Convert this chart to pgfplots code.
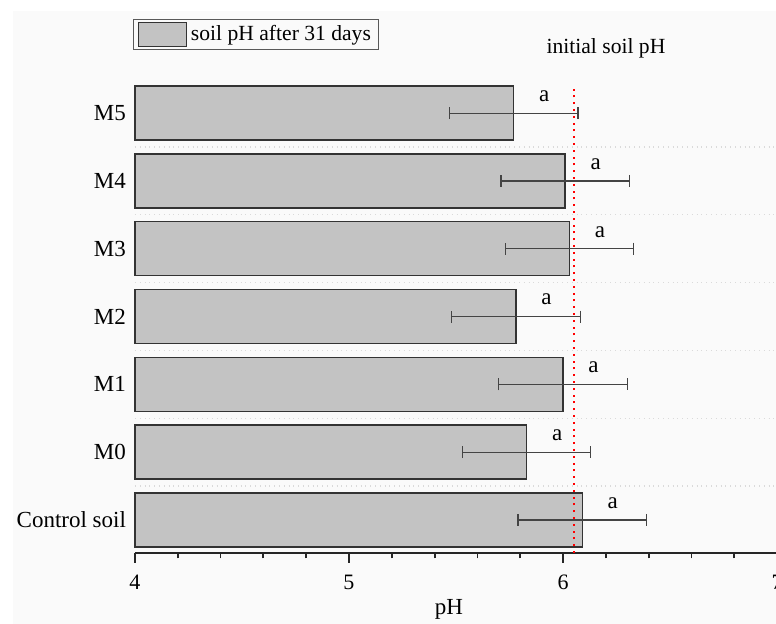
\documentclass[border=0pt]{standalone}
\usepackage{fontspec}
\setmainfont{Liberation Serif}
\usepackage{pgfplots}
\pgfplotsset{compat=1.18}
\definecolor{bg}{RGB}{250,250,250}
\definecolor{barfill}{RGB}{195,195,195}
\definecolor{bardraw}{RGB}{51,51,51}
\definecolor{errc}{RGB}{68,68,68}
\definecolor{gridc}{RGB}{218,218,218}
\pgfplotstableread{
pos ph err
0 6.09 0.30
1 5.83 0.30
2 6.00 0.30
3 5.78 0.30
4 6.03 0.30
5 6.01 0.30
6 5.77 0.30
}\phdata
\begin{document}
\begin{tikzpicture}
\useasboundingbox (-67.5pt,-35.5pt) rectangle (320.5pt,276.5pt);
\fill[white] (-67.5pt,-35.5pt) rectangle (320.5pt,276.5pt);
\fill[bg] (-61pt,-35.5pt) rectangle (320.5pt,271pt);
\begin{axis}[
  scale only axis, width=321pt, height=236.9pt,
  xmin=0, xmax=3, ymin=-0.487, ymax=6.5,
  x filter/.expression={x-4},
  clip=false,
  axis x line*=bottom, axis y line*=left,
  y axis line style={draw=none},
  x axis line style={line width=1pt, black!85, -},
  xtick={0,1,2,3}, xticklabels={4,5,6,7},
  minor x tick num=4,
  tick align=outside,
  major tick length=5pt, minor tick length=2.75pt,
  xtick style={line width=0.9pt, black!85},
  ytick={0,1,2,3,4,5,6},
  yticklabels={Control soil, M0, M1, M2, M3, M4, M5},
  ytick style={draw=none},
  yticklabel style={font=\fontsize{11.5}{13}\selectfont, xshift=4pt},
  xticklabel style={font=\fontsize{11}{12}\selectfont, yshift=-2.5pt},
  /pgf/number format/assume math mode=true,
  extra y ticks={0.5,1.5,2.5,3.5,4.5,5.5},
  extra y tick labels={},
  extra y tick style={grid=major, major grid style={gridc, dotted, line width=0.6pt}, tick style={draw=none}},
  xlabel={pH},
  xlabel style={font=\fontsize{11.5}{13}\selectfont, at={(axis description cs:0.489,0)}, anchor=base, yshift=-31pt},
  legend style={at={(-0.003,1.127)}, anchor=north west, draw=black!65, line width=0.5pt, fill=none, inner xsep=2pt, inner ysep=1pt, font=\fontsize{10.8}{12}\selectfont},
  legend cell align=left,
]
\addplot[xbar, bar width=27pt, fill=barfill, draw=bardraw, line width=0.7pt,
  legend image code/.code={\draw[fill=barfill, draw=bardraw, line width=0.7pt] (0pt,-6pt) rectangle (24pt,6pt);},
  nodes near coords={a},
  every node near coord/.append style={anchor=center, xshift=15.25pt, yshift=8.5pt, text=black, font=\fontsize{11.5}{13}\selectfont},
  error bars/.cd, x dir=both, x explicit,
  error bar style={errc, line width=0.6pt},
  error mark options={errc, line width=0.6pt, mark size=3pt, rotate=90}]
  table[x=ph, y=pos, x error=err] {\phdata};
\addlegendentry{soil pH after 31 days}
\addplot[red, line width=1pt, dash pattern=on 1pt off 2.4pt, forget plot] coordinates {(6.05,-0.487) (6.05,6.4)};
\node[font=\fontsize{10.8}{12}\selectfont] at (axis description cs:0.7336,1.066) {initial soil pH};
\end{axis}
\end{tikzpicture}
\end{document}
